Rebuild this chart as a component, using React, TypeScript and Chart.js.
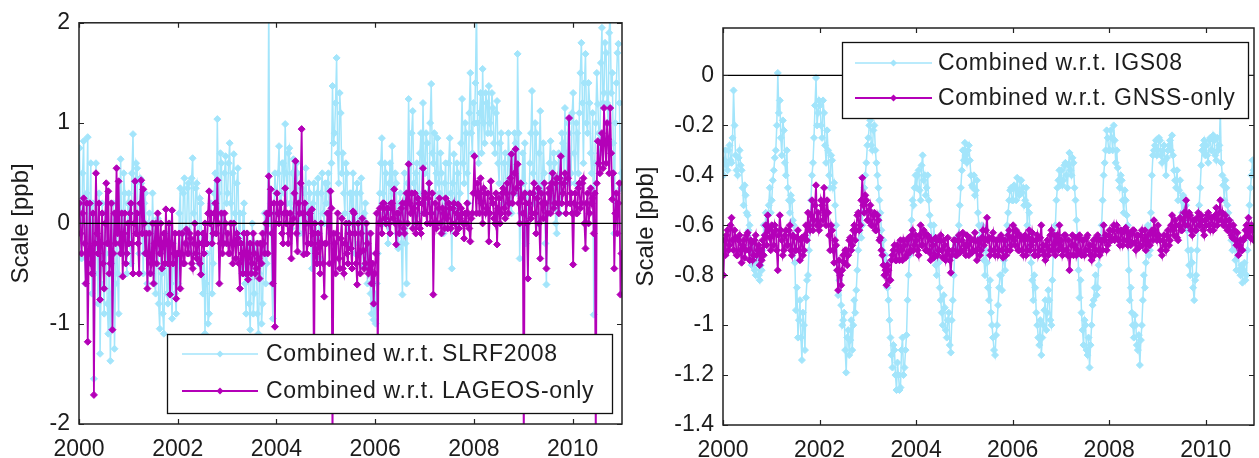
import React, { useEffect, useRef } from "react";
import { Chart, registerables } from "chart.js";

Chart.register(...registerables);

// ---- sampling: two weekly readings per half-month slot, from 2000.0 ----
const FIRST_YEAR = 2000;
const SLOTS_PER_YEAR = 24;

// ---- tick labels ----
const xTicks = [2000, 2002, 2004, 2006, 2008, 2010];
const leftYTicks = [-2, -1, 0, 1, 2];
const rightYTicks = [-1.4, -1.2, -1, -0.8, -0.6, -0.4, -0.2, 0];

// ---- left panel: Combined w.r.t. SLRF2008 [ppb] (first reading of each slot) ----
const slrf2008 = [
  0.75, -0.35, 0.82, -0.6, 0.86, 0.1, -0.7, -1.55, 0.6, -0.8, -1.3, 0.2, -0.9, -0.3, -1.1, -1.37, -0.4, -1.25, 0.0, -0.9, 0.64, -0.3, 0.3, -0.5,
  0.3, -0.4, 0.89, 0.1, 0.55, -0.3, 0.4, -0.5, 0.3, -0.6, 0.1, -0.3, -0.1, -0.7, 0.05, -1.05, -0.5, -1.1, -0.2, -0.8, 0.0, -0.95, -0.3, -0.9,
  -0.6, 0.35, -0.2, 0.45, -0.1, 0.4, -0.3, 0.65, 0.0, 0.4, -0.4, 0.2, -0.7, -1.1, -0.3, -0.9, 0.2, -0.4, 0.5, 1.04, 0.1, 0.6, -0.2, 0.67,
  0.3, 0.8, 0.0, 0.69, -0.2, 0.55, 0.1, -0.5, 0.2, -0.9, -0.2, -1.06, 0.0, -0.7, -0.3, -1.1, -0.2, -0.8, 0.1, -0.4, 2.3, 0.2, -0.95, 0.5,
  0.3, 0.77, 0.1, 0.6, 0.99, 0.2, 0.75, -0.05, 0.64, 0.15, 0.5, -0.1, 0.35, -0.3, 0.55, 0.0, 0.3, -0.45, 0.4, -0.2, 0.45, -0.35, 0.5, 0.0,
  0.2, 0.5, -0.1, 1.37, 0.9, 1.65, 0.4, 1.1, 0.7, 0.1, 0.5, -0.2, 0.3, 0.5, -0.3, 0.4, -0.1, 0.45, -0.43, 0.2, -0.6, -0.3, -0.9, -0.96,
  -1.0, -0.3, 0.3, 0.85, 0.0, 0.5, -0.2, 0.6, 0.77, 0.1, 0.4, -0.25, 0.3, -0.71, 0.5, -0.6, 1.24, 0.3, 1.12, 0.0, 0.6, 0.1, 0.9, 1.2,
  0.5, 0.8, 0.2, 1.39, 0.6, 0.1, 0.85, 0.3, 0.5, -0.1, 0.6, 0.2, 0.85, -0.45, 0.69, 0.0, 0.5, 0.3, 1.24, 0.4, 0.9, 0.2, 1.5, 0.7,
  1.0, 2.2, 0.6, 1.3, 1.54, 0.8, 1.2, 1.37, 0.9, 1.15, 0.7, 1.22, 0.4, 0.9, 0.2, 0.7, 0.3, 0.6, 0.1, 0.5, 0.8, 1.69, -0.35, 0.3,
  0.4, -0.2, -0.55, 0.6, 1.32, 0.2, 0.9, 0.0, 1.12, 0.3, 0.5, -0.61, 0.1, 0.82, 0.2, 0.6, -0.1, 0.7, 0.3, 0.8, 1.15, 0.4, 0.9, 0.5,
  1.3, 0.4, 0.9, 1.1, 1.8, 0.6, 1.69, 0.9, 1.2, 0.5, -0.91, 1.0, 1.19, 0.7, 1.95, 1.3, 1.7, 1.0, 2.1, 1.5, -0.1, 1.4, 1.79, 0.35,
];
// second reading of each slot
const slrf2008Mid = [
  0.1, 0.5, -0.2, 0.3, -0.4, 0.6, 0.2, -0.5, -0.2, 0.3, -0.6, -0.4, 0.1, -0.8, -0.2, -0.7, 0.2, -0.6, -0.5, 0.1, -0.1, 0.5, -0.2, 0.2,
  -0.2, 0.5, 0.2, 0.6, -0.2, 0.45, -0.1, 0.2, -0.3, 0.0, -0.5, 0.3, -0.6, 0.0, -0.8, -0.3, -0.9, -0.4, -0.7, -0.1, -0.6, -0.2, -0.7, -0.4,
  0.1, -0.3, 0.3, -0.1, 0.35, -0.2, 0.45, 0.1, 0.35, -0.2, 0.25, -0.5, -0.2, -0.6, -1.0, -0.2, -0.7, 0.3, -0.1, 0.3, 0.7, -0.1, 0.5, 0.2,
  0.6, 0.2, 0.5, 0.1, 0.4, -0.1, -0.4, 0.1, -0.6, -0.1, -0.8, -0.4, -0.9, -0.2, -0.9, -0.5, -1.0, -0.3, -0.6, -0.1, 0.0, -0.6, 0.1, 0.3,
  0.5, 0.2, 0.6, 0.3, 0.5, 0.7, 0.2, 0.5, 0.1, 0.6, 0.0, 0.4, -0.1, 0.3, 0.1, 0.4, -0.2, 0.2, -0.1, 0.3, -0.1, 0.3, 0.1, 0.4,
  0.4, 0.0, 0.6, 0.8, 1.2, 0.7, 1.3, 0.5, 0.3, 0.6, -0.1, 0.3, 0.0, -0.1, 0.3, -0.2, 0.3, 0.0, 0.1, -0.3, -0.1, -0.7, -0.5, -0.7,
  -0.6, 0.1, 0.6, 0.3, 0.6, 0.1, 0.4, 0.2, 0.3, 0.5, -0.1, 0.2, -0.2, 0.1, -0.2, 0.4, 0.6, 0.9, 0.4, 0.5, 0.2, 0.7, 0.3, 0.6,
  0.9, 0.3, 1.0, 0.7, 0.9, 0.5, 0.4, 0.7, 0.1, 0.4, 0.1, 0.6, 0.3, 0.4, 0.2, 0.6, 0.1, 0.8, 0.6, 1.0, 0.5, 1.1, 0.9, 1.2,
  1.4, 1.0, 1.1, 0.7, 1.0, 1.3, 0.9, 1.0, 1.3, 0.8, 1.1, 0.6, 0.8, 0.3, 0.6, 0.2, 0.9, 0.2, 0.7, 0.9, 0.3, 0.9, 0.1, 0.7,
  0.8, 0.3, 0.2, 0.9, 0.5, 1.0, 0.3, 0.7, 0.4, 0.8, -0.2, 0.2, 0.6, 0.3, 0.7, 0.0, 0.4, 0.1, 0.9, 0.4, 0.7, 1.0, 0.4, 1.1,
  0.7, 1.0, 0.5, 1.5, 1.2, 1.4, 1.0, 1.4, 0.7, 1.1, 0.6, 1.5, 0.9, 1.6, 1.2, 1.8, 1.2, 1.9, 1.3, 0.8, 1.0, 1.7, 1.2, 0.5,
];

// ---- left panel: Combined w.r.t. LAGEOS-only [ppb] ----
const lageosOnly = [
  0.2, -0.3, 0.25, -0.6, -1.18, 0.2, -0.5, -1.71, 0.5, -0.3, -0.76, 0.1, -0.65, 0.4, 0.32, -0.4, -1.06, 0.1, 0.55, 0.42, -0.3, -0.53, 0.1, -0.3,
  -0.2, 0.2, -0.5, 0.42, 0.1, -0.5, 0.43, 0.34, -0.3, -0.65, -0.1, -0.4, -0.6, 0.0, 0.1, -0.3, -0.45, -0.1, 0.14, -0.4, -0.71, 0.13, -0.3, -0.75,
  -0.3, -0.65, -0.1, -0.4, -0.06, -0.3, -0.15, -0.45, 0.0, -0.35, -0.2, -0.51, -0.1, 0.0, -0.2, 0.32, 0.1, -0.1, 0.2, 0.43, -0.6, 0.1, -0.2, 0.0,
  -0.1, -0.3, -0.2, 0.0, -0.35, -0.15, -0.65, -0.3, -0.1, -0.5, -0.56, -0.2, -0.4, -0.3, -0.45, -0.35, -0.2, -0.1, -0.3, 0.1, 0.47, 0.34, -0.6, -1.03,
  0.3, 0.0, 0.2, -0.2, 0.35, 0.1, -0.1, -0.35, 0.05, 0.62, -0.28, 0.1, 0.94, -0.31, 0.0, -0.2, 0.1, 0.14, -1.6, -0.3, -0.1, -0.5, -0.2, -0.73,
  -0.2, 0.1, 0.32, -2.3, -0.2, -0.1, -0.35, -0.15, -0.45, -0.2, -0.3, 0.0, -0.25, 0.12, -0.1, -0.61, -0.3, -0.1, -0.27, -0.4, -0.2, -0.46, -0.6, -0.8,
  -0.3, -1.4, 0.15, -0.1, 0.2, 0.0, 0.15, -0.1, 0.2, 0.34, -0.21, 0.1, 0.0, 0.2, -0.1, 0.3, 0.59, 0.1, -0.05, 0.3, 0.0, 0.2, -0.1, 0.55,
  0.3, 0.0, 0.4, 0.1, -0.71, 0.2, 0.0, 0.25, -0.1, 0.1, 0.25, -0.05, 0.15, 0.0, 0.2, -0.1, 0.19, 0.05, 0.1, -0.15, 0.0, 0.1, -0.18, 0.1,
  0.67, 0.1, 0.3, 0.45, 0.0, 0.3, 0.15, -0.18, 0.42, 0.2, 0.0, -0.21, 0.25, 0.1, 0.35, 0.05, 0.4, 0.2, 0.69, 0.3, 0.74, 0.59, 0.0, 0.25,
  -2.3, 0.2, -0.55, 0.3, 0.1, 0.4, -0.1, 0.35, -0.35, 0.2, 0.4, -0.45, 0.3, 0.1, 0.5, 0.2, 0.45, 0.1, 0.67, 0.3, 0.5, 0.2, 1.05, 0.3,
  -0.41, 0.3, 0.1, 0.4, 0.2, 0.45, -0.25, 0.3, 0.1, 0.2, -0.1, -2.3, 0.82, 0.5, 0.9, 1.15, 0.6, 0.84, 1.15, 0.24, -0.45, 0.3, 0.2, -0.71,
];
const lageosOnlyMid = [
  -0.1, 0.1, -0.2, 0.2, -0.3, -0.4, 0.1, -0.2, -0.1, 0.2, -0.2, -0.4, 0.0, -0.2, -0.5, 0.2, -0.3, -0.2, -0.1, -0.2, 0.1, -0.1, -0.4, 0.0,
  0.1, -0.2, 0.0, -0.1, -0.2, 0.2, -0.1, 0.0, -0.1, -0.3, -0.5, 0.0, -0.2, -0.4, -0.2, 0.0, -0.2, -0.4, -0.2, 0.0, -0.2, -0.4, -0.1, -0.3,
  -0.1, -0.3, -0.4, -0.2, -0.3, -0.1, -0.4, -0.2, -0.3, -0.1, -0.4, -0.2, -0.3, -0.2, 0.1, 0.0, -0.2, 0.1, -0.1, 0.0, -0.2, -0.3, 0.1, -0.2,
  -0.3, 0.0, -0.4, -0.2, -0.1, -0.4, -0.2, -0.5, -0.3, -0.1, -0.3, -0.5, -0.1, -0.5, -0.2, -0.55, -0.4, -0.2, 0.0, -0.3, 0.1, -0.1, 0.2, 0.0,
  0.1, 0.2, -0.1, 0.1, 0.0, -0.2, 0.1, 0.0, 0.3, -0.1, 0.2, 0.4, 0.1, 0.2, -0.3, 0.1, -0.2, -0.1, 0.0, -0.4, -0.2, 0.0, -0.4, -0.2,
  0.1, -0.4, 0.15, -0.1, -0.5, 0.1, -0.45, 0.05, -0.5, 0.0, -0.4, -0.1, -0.45, 0.1, -0.4, 0.0, -0.5, 0.05, -0.45, 0.0, -0.5, -0.1, -0.4, -0.5,
  0.1, 0.0, 0.0, 0.2, 0.05, 0.15, 0.0, 0.2, 0.05, 0.0, 0.1, -0.1, 0.15, -0.05, 0.2, 0.0, 0.2, 0.3, 0.15, -0.1, 0.25, -0.05, 0.2, 0.1,
  0.1, 0.25, 0.0, 0.3, 0.0, -0.05, 0.15, 0.0, 0.15, -0.05, 0.05, 0.2, -0.05, 0.15, 0.0, 0.1, -0.05, 0.15, 0.0, 0.1, 0.2, -0.05, 0.05, 0.3,
  0.3, 0.4, 0.1, 0.2, 0.35, 0.1, 0.3, 0.1, 0.25, 0.05, 0.3, 0.15, 0.0, 0.3, 0.15, 0.3, 0.1, 0.45, 0.2, 0.5, 0.35, 0.2, 0.4, 0.1,
  0.3, 0.0, 0.2, 0.05, 0.3, 0.1, 0.25, 0.0, 0.3, 0.05, 0.2, 0.1, 0.35, 0.4, 0.15, 0.4, 0.2, 0.45, 0.2, 0.4, 0.1, 0.45, 0.2, 0.1,
  0.2, 0.1, 0.35, 0.15, 0.4, 0.0, 0.2, 0.0, 0.35, 0.25, 0.3, 0.4, 0.6, 0.8, 0.55, 0.8, 1.0, 0.5, 0.7, 0.5, 0.1, -0.1, 0.4, -0.3,
];

// ---- right panel: Combined w.r.t. IGS08 [ppb] ----
const igs08 = [
  -0.4, -0.3, -0.38, -0.28, -0.35, -0.06, -0.32, -0.4, -0.3, -0.38, -0.52, -0.48, -0.56, -0.6, -0.76, -0.72, -0.8, -0.75, -0.82, -0.78, -0.6, -0.55, -0.6, -0.45,
  -0.5, -0.38, -0.3, 0.01, -0.1, -0.32, -0.22, -0.4, -0.45, -0.55, -0.5, -0.6, -0.94, -1.05, -0.9, -1.14, -1.0, -0.89, -0.8, -0.6, -0.4, -0.25, -0.01, -0.15,
  -0.12, -0.25, -0.15, -0.35, -0.3, -0.45, -0.34, -0.43, -0.6, -0.88, -0.8, -1.0, -0.95, -1.19, -1.02, -1.06, -1.1, -0.9, -0.86, -0.7, -0.55, -0.6, -0.45, -0.35,
  -0.25, -0.18, -0.3, -0.2, -0.35, -0.45, -0.55, -0.7, -0.8, -0.75, -0.9, -1.05, -1.17, -1.1, -1.26, -1.2, -1.25, -1.05, -1.17, -1.04, -0.8, -0.65, -0.5, -0.45,
  -0.45, -0.38, -0.5, -0.32, -0.4, -0.45, -0.5, -0.6, -0.7, -0.65, -0.8, -0.75, -0.9, -1.0, -0.93, -1.05, -0.95, -1.11, -0.9, -0.7, -0.65, -0.6, -0.45, -0.3,
  -0.27, -0.35, -0.28, -0.4, -0.45, -0.48, -0.42, -0.6, -0.7, -0.65, -0.8, -0.75, -0.9, -0.95, -1.05, -1.12, -1.0, -0.85, -0.8, -0.7, -0.78, -0.6, -0.5, -0.45,
  -0.5, -0.45, -0.41, -0.48, -0.42, -0.45, -0.5, -0.6, -0.55, -0.75, -0.9, -0.85, -1.0, -1.08, -1.12, -1.0, -0.9, -0.95, -0.9, -1.0, -0.7, -0.6, -0.45, -0.38,
  -0.38, -0.42, -0.35, -0.45, -0.31, -0.4, -0.35, -0.5, -0.65, -0.89, -0.95, -1.08, -1.0, -1.12, -1.17, -1.0, -0.9, -0.8, -0.85, -0.7, -0.6, -0.4, -0.3, -0.25,
  -0.3, -0.25, -0.2, -0.35, -0.37, -0.45, -0.42, -0.55, -0.5, -0.6, -0.9, -0.95, -1.05, -1.0, -1.1, -1.16, -1.0, -0.8, -0.75, -0.6, -0.7, -0.4, -0.3, -0.26,
  -0.3, -0.26, -0.35, -0.28, -0.4, -0.3, -0.26, -0.24, -0.38, -0.45, -0.5, -0.42, -0.55, -0.6, -0.52, -0.7, -0.8, -0.75, -0.9, -0.8, -0.6, -0.45, -0.3, -0.26,
  -0.28, -0.35, -0.25, -0.3, -0.26, -0.34, -0.3, -0.14, -0.4, -0.5, -0.45, -0.55, -0.6, -0.7, -0.65, -0.78, -0.72, -0.8, -0.83, -0.75, -0.8, -0.6, -0.45, -0.34,
];
const igs08Mid = [
  -0.34, -0.36, -0.3, -0.34, -0.25, -0.2, -0.38, -0.33, -0.36, -0.45, -0.44, -0.55, -0.62, -0.68, -0.7, -0.78, -0.74, -0.8, -0.76, -0.7, -0.64, -0.6, -0.52, -0.55,
  -0.42, -0.33, -0.2, -0.15, -0.25, -0.18, -0.35, -0.3, -0.5, -0.48, -0.58, -0.75, -0.85, -0.98, -1.05, -0.95, -1.1, -0.82, -0.7, -0.5, -0.35, -0.12, -0.2, -0.1,
  -0.2, -0.1, -0.28, -0.22, -0.4, -0.32, -0.45, -0.52, -0.78, -0.82, -0.92, -0.98, -1.1, -1.05, -1.12, -0.98, -1.0, -0.95, -0.78, -0.62, -0.65, -0.5, -0.4, -0.28,
  -0.2, -0.28, -0.22, -0.3, -0.4, -0.5, -0.62, -0.66, -0.72, -0.85, -0.98, -1.12, -1.08, -1.2, -1.15, -1.26, -1.1, -1.2, -1.1, -0.9, -0.72, -0.58, -0.52, -0.4,
  -0.4, -0.46, -0.36, -0.42, -0.48, -0.4, -0.56, -0.66, -0.6, -0.76, -0.7, -0.85, -0.95, -0.88, -1.02, -0.98, -1.08, -0.98, -0.8, -0.68, -0.7, -0.52, -0.38, -0.34,
  -0.32, -0.3, -0.34, -0.44, -0.4, -0.46, -0.55, -0.65, -0.6, -0.74, -0.7, -0.85, -0.82, -1.0, -1.1, -1.04, -0.92, -0.8, -0.86, -0.74, -0.66, -0.55, -0.46, -0.5,
  -0.44, -0.5, -0.46, -0.42, -0.47, -0.52, -0.45, -0.52, -0.68, -0.82, -0.8, -0.95, -1.05, -0.98, -1.05, -0.94, -1.02, -0.86, -0.98, -0.82, -0.65, -0.5, -0.42, -0.44,
  -0.44, -0.36, -0.4, -0.36, -0.38, -0.33, -0.45, -0.58, -0.78, -0.82, -1.02, -0.98, -1.1, -1.05, -1.08, -0.92, -0.85, -0.88, -0.76, -0.65, -0.5, -0.35, -0.22, -0.3,
  -0.22, -0.3, -0.26, -0.3, -0.42, -0.4, -0.5, -0.46, -0.56, -0.78, -0.85, -1.0, -0.96, -1.08, -1.04, -1.06, -0.9, -0.85, -0.66, -0.72, -0.55, -0.32, -0.28, -0.32,
  -0.25, -0.32, -0.3, -0.34, -0.33, -0.28, -0.3, -0.32, -0.42, -0.38, -0.46, -0.5, -0.48, -0.55, -0.62, -0.76, -0.7, -0.85, -0.82, -0.7, -0.52, -0.36, -0.28, -0.32,
  -0.32, -0.26, -0.3, -0.24, -0.32, -0.25, -0.28, -0.35, -0.44, -0.42, -0.52, -0.58, -0.66, -0.62, -0.74, -0.7, -0.78, -0.76, -0.78, -0.82, -0.7, -0.52, -0.4, -0.38,
];

// ---- right panel: Combined w.r.t. GNSS-only [ppb] ----
const gnssOnly = [
  -0.8, -0.72, -0.62, -0.68, -0.57, -0.7, -0.65, -0.72, -0.64, -0.75, -0.66, -0.7, -0.63, -0.74, -0.67, -0.72, -0.64, -0.7, -0.76, -0.74, -0.72, -0.6, -0.56, -0.65,
  -0.6, -0.68, -0.62, -0.78, -0.56, -0.66, -0.7, -0.62, -0.68, -0.6, -0.72, -0.65, -0.7, -0.62, -0.74, -0.65, -0.7, -0.6, -0.55, -0.62, -0.5, -0.58, -0.44, -0.55,
  -0.6, -0.52, -0.45, -0.6, -0.55, -0.7, -0.62, -0.75, -0.68, -0.86, -0.8, -0.78, -0.75, -0.7, -0.72, -0.65, -0.68, -0.6, -0.62, -0.55, -0.6, -0.41, -0.55, -0.5,
  -0.58, -0.52, -0.6, -0.55, -0.62, -0.58, -0.65, -0.72, -0.8, -0.84, -0.78, -0.82, -0.72, -0.68, -0.74, -0.7, -0.66, -0.74, -0.68, -0.72, -0.65, -0.7, -0.62, -0.68,
  -0.66, -0.72, -0.6, -0.68, -0.63, -0.7, -0.65, -0.74, -0.68, -0.72, -0.66, -0.7, -0.64, -0.73, -0.68, -0.72, -0.7, -0.79, -0.7, -0.66, -0.72, -0.64, -0.7, -0.63,
  -0.68, -0.64, -0.72, -0.66, -0.7, -0.63, -0.74, -0.67, -0.7, -0.62, -0.66, -0.57, -0.65, -0.7, -0.63, -0.72, -0.66, -0.7, -0.64, -0.73, -0.66, -0.7, -0.62, -0.68,
  -0.6, -0.68, -0.63, -0.7, -0.65, -0.72, -0.64, -0.7, -0.62, -0.68, -0.66, -0.72, -0.64, -0.7, -0.6, -0.68, -0.74, -0.66, -0.7, -0.62, -0.68, -0.72, -0.64, -0.6,
  -0.66, -0.7, -0.64, -0.72, -0.78, -0.68, -0.72, -0.65, -0.7, -0.64, -0.72, -0.66, -0.7, -0.64, -0.68, -0.74, -0.66, -0.7, -0.64, -0.72, -0.66, -0.6, -0.64, -0.68,
  -0.62, -0.66, -0.6, -0.65, -0.62, -0.68, -0.63, -0.66, -0.61, -0.68, -0.64, -0.67, -0.62, -0.7, -0.64, -0.68, -0.62, -0.66, -0.7, -0.64, -0.68, -0.62, -0.58, -0.64,
  -0.6, -0.66, -0.72, -0.64, -0.7, -0.62, -0.66, -0.56, -0.64, -0.6, -0.66, -0.57, -0.62, -0.55, -0.5, -0.6, -0.56, -0.64, -0.58, -0.62, -0.55, -0.6, -0.58, -0.64,
  -0.6, -0.55, -0.62, -0.57, -0.6, -0.53, -0.58, -0.5, -0.55, -0.6, -0.58, -0.62, -0.6, -0.65, -0.62, -0.68, -0.72, -0.66, -0.7, -0.65, -0.6, -0.57, -0.65, -0.62,
];
const gnssOnlyMid = [
  -0.66, -0.64, -0.7, -0.6, -0.66, -0.62, -0.72, -0.66, -0.7, -0.68, -0.73, -0.64, -0.7, -0.66, -0.74, -0.66, -0.72, -0.68, -0.7, -0.66, -0.64, -0.68, -0.62, -0.7,
  -0.64, -0.6, -0.7, -0.64, -0.62, -0.72, -0.64, -0.68, -0.62, -0.7, -0.64, -0.7, -0.65, -0.7, -0.66, -0.72, -0.64, -0.66, -0.6, -0.56, -0.62, -0.52, -0.6, -0.62,
  -0.5, -0.58, -0.56, -0.5, -0.64, -0.6, -0.7, -0.66, -0.78, -0.74, -0.84, -0.72, -0.7, -0.76, -0.66, -0.7, -0.62, -0.66, -0.56, -0.62, -0.5, -0.52, -0.48, -0.58,
  -0.54, -0.6, -0.56, -0.62, -0.56, -0.66, -0.7, -0.76, -0.78, -0.76, -0.82, -0.74, -0.7, -0.74, -0.68, -0.74, -0.7, -0.66, -0.73, -0.66, -0.71, -0.64, -0.7, -0.64,
  -0.7, -0.64, -0.68, -0.62, -0.7, -0.64, -0.71, -0.66, -0.73, -0.65, -0.72, -0.66, -0.7, -0.66, -0.74, -0.65, -0.74, -0.72, -0.66, -0.72, -0.66, -0.71, -0.66, -0.7,
  -0.72, -0.68, -0.65, -0.71, -0.66, -0.7, -0.66, -0.72, -0.65, -0.68, -0.62, -0.66, -0.72, -0.65, -0.7, -0.66, -0.72, -0.65, -0.7, -0.66, -0.72, -0.64, -0.7, -0.65,
  -0.66, -0.62, -0.7, -0.64, -0.7, -0.66, -0.72, -0.65, -0.7, -0.63, -0.72, -0.66, -0.72, -0.65, -0.7, -0.72, -0.68, -0.72, -0.64, -0.7, -0.64, -0.66, -0.7, -0.68,
  -0.72, -0.64, -0.7, -0.66, -0.72, -0.64, -0.68, -0.72, -0.65, -0.71, -0.66, -0.72, -0.65, -0.7, -0.72, -0.68, -0.72, -0.65, -0.7, -0.66, -0.7, -0.66, -0.7, -0.64,
  -0.66, -0.62, -0.66, -0.6, -0.66, -0.62, -0.68, -0.62, -0.66, -0.63, -0.68, -0.62, -0.67, -0.64, -0.69, -0.64, -0.68, -0.62, -0.66, -0.68, -0.63, -0.66, -0.62, -0.66,
  -0.64, -0.7, -0.66, -0.68, -0.64, -0.68, -0.6, -0.62, -0.58, -0.65, -0.6, -0.62, -0.58, -0.6, -0.56, -0.55, -0.62, -0.58, -0.62, -0.57, -0.6, -0.56, -0.62, -0.58,
  -0.56, -0.6, -0.57, -0.62, -0.56, -0.6, -0.55, -0.58, -0.6, -0.56, -0.62, -0.58, -0.64, -0.6, -0.66, -0.63, -0.68, -0.7, -0.66, -0.62, -0.64, -0.62, -0.6, -0.66,
];

const zeroLine = [0, 0];
const zeroLineX = [2000, 2011];

// ---- styling ----
const BLUE = "rgb(163,229,251)";
const MAGENTA = "rgb(180,0,184)";
const TEXT = "#1c1c1c";
const FONT_FAMILY = "'Liberation Sans', Arial, Helvetica, sans-serif";
const FONT_SIZE = 23;

// two readings per slot: first at a quarter, second at three quarters of the slot
const toPoints = (first: number[], second: number[]) => {
  const pts: { x: number; y: number }[] = [];
  first.forEach((v, i) => {
    pts.push({ x: FIRST_YEAR + (i + 0.25) / SLOTS_PER_YEAR, y: v });
    if (second[i] !== undefined) {
      pts.push({ x: FIRST_YEAR + (i + 0.75) / SLOTS_PER_YEAR, y: second[i] });
    }
  });
  return pts;
};

const framePlugin = {
  id: "matlabFrame",
  afterDatasetsDraw(chart: any, _args: any, opts: any) {
    const { ctx, chartArea: a } = chart;
    ctx.save();
    // legend box (inside the axes, opaque)
    const lg = opts.legend;
    ctx.fillStyle = "#ffffff";
    ctx.fillRect(lg.x, lg.y, lg.w, lg.h);
    ctx.strokeStyle = "#111";
    ctx.lineWidth = 1.3;
    ctx.strokeRect(lg.x + 0.5, lg.y + 0.5, lg.w, lg.h);
    const items = chart.data.datasets
      .filter((d: any) => d.label)
      .sort((p: any, q: any) => (q.order ?? 0) - (p.order ?? 0));
    items.forEach((it: any, i: number) => {
      const y = lg.y + lg.rowY[i];
      ctx.strokeStyle = it.borderColor;
      ctx.lineWidth = it.legendLineWidth;
      ctx.beginPath();
      ctx.moveTo(lg.x + lg.lineX0, y);
      ctx.lineTo(lg.x + lg.lineX1, y);
      ctx.stroke();
      const cx = lg.x + (lg.lineX0 + lg.lineX1) / 2;
      const r = 3.5;
      ctx.fillStyle = it.borderColor;
      ctx.beginPath();
      ctx.moveTo(cx, y - r);
      ctx.lineTo(cx + r, y);
      ctx.lineTo(cx, y + r);
      ctx.lineTo(cx - r, y);
      ctx.closePath();
      ctx.fill();
      ctx.fillStyle = TEXT;
      ctx.font = `${FONT_SIZE}px ${FONT_FAMILY}`;
      ctx.textAlign = "left";
      ctx.textBaseline = "middle";
      try {
        (ctx as any).letterSpacing = lg.letterSpacing;
      } catch (e) {
        /* ignore */
      }
      ctx.fillText(it.label, lg.x + lg.textX, y + 1);
      try {
        (ctx as any).letterSpacing = "0px";
      } catch (e) {
        /* ignore */
      }
    });
    // axes box
    ctx.strokeStyle = "#222";
    ctx.lineWidth = 1.5;
    ctx.strokeRect(a.left, a.top, a.right - a.left, a.bottom - a.top);
    // inward tick marks on all four sides
    const L = 5;
    const xs = chart.scales.x;
    const ys = chart.scales.y;
    ctx.lineWidth = 1.2;
    ctx.beginPath();
    xs.ticks.forEach((t: any) => {
      const px = Math.round(xs.getPixelForValue(t.value)) + 0.5;
      ctx.moveTo(px, a.bottom);
      ctx.lineTo(px, a.bottom - L);
      ctx.moveTo(px, a.top);
      ctx.lineTo(px, a.top + L);
    });
    ys.ticks.forEach((t: any) => {
      const py = Math.round(ys.getPixelForValue(t.value)) + 0.5;
      ctx.moveTo(a.left, py);
      ctx.lineTo(a.left + L, py);
      ctx.moveTo(a.right, py);
      ctx.lineTo(a.right - L, py);
    });
    ctx.stroke();
    ctx.restore();
  },
};

type PanelSpec = {
  top: number;
  right: number;
  yWidth: number;
  xHeight: number;
  titlePad: number;
  yMin: number;
  yMax: number;
  yTicks: number[];
  blue: number[];
  blueMid: number[];
  magenta: number[];
  magentaMid: number[];
  blueLabel: string;
  magentaLabel: string;
  legend: any;
};

function makeConfig(p: PanelSpec): any {
  const font = { family: FONT_FAMILY, size: FONT_SIZE };
  return {
    type: "line",
    data: {
      datasets: [
        {
          label: "",
          data: zeroLineX.map((x, i) => ({ x, y: zeroLine[i] })),
          borderColor: "#000",
          borderWidth: 1.3,
          pointRadius: 0,
          order: 0,
        },
        {
          label: p.magentaLabel,
          data: toPoints(p.magenta, p.magentaMid),
          borderColor: MAGENTA,
          backgroundColor: MAGENTA,
          borderWidth: 1.8,
          legendLineWidth: 1.8,
          pointStyle: "rectRot",
          pointRadius: 3.5,
          pointBorderWidth: 1,
          pointBackgroundColor: MAGENTA,
          pointBorderColor: MAGENTA,
          order: 1,
        },
        {
          label: p.blueLabel,
          data: toPoints(p.blue, p.blueMid),
          borderColor: BLUE,
          backgroundColor: BLUE,
          borderWidth: 1.5,
          legendLineWidth: 1.5,
          pointStyle: "rectRot",
          pointRadius: 3.5,
          pointBorderWidth: 1,
          pointBackgroundColor: BLUE,
          pointBorderColor: BLUE,
          order: 2,
        },
      ],
    },
    options: {
      responsive: false,
      animation: false,
      devicePixelRatio: 1,
      events: [],
      layout: { padding: { left: 0, right: p.right, top: p.top, bottom: 0 } },
      plugins: {
        legend: { display: false },
        tooltip: { enabled: false },
        matlabFrame: { legend: p.legend },
      },
      scales: {
        x: {
          type: "linear",
          min: 2000,
          max: 2011,
          afterBuildTicks: (s: any) => {
            s.ticks = xTicks.map((v) => ({ value: v }));
          },
          afterFit: (s: any) => {
            s.height = p.xHeight;
          },
          grid: { display: false, drawTicks: false },
          border: { display: false },
          ticks: {
            autoSkip: false,
            maxRotation: 0,
            minRotation: 0,
            padding: 12,
            color: TEXT,
            font,
            callback: (v: any) => String(v),
          },
        },
        y: {
          type: "linear",
          min: p.yMin,
          max: p.yMax,
          afterBuildTicks: (s: any) => {
            s.ticks = p.yTicks.map((v) => ({ value: v }));
          },
          afterFit: (s: any) => {
            s.width = p.yWidth;
          },
          grid: { display: false, drawTicks: false },
          border: { display: false },
          ticks: {
            autoSkip: false,
            padding: 9,
            color: TEXT,
            font,
            callback: (v: any) => String(v),
          },
          title: {
            display: true,
            text: "Scale [ppb]",
            color: TEXT,
            font: { family: FONT_FAMILY, size: 24 },
            padding: { top: p.titlePad, bottom: 0 },
          },
        },
      },
    },
    plugins: [framePlugin],
  };
}

export default function App() {
  const leftRef = useRef<HTMLCanvasElement>(null);
  const rightRef = useRef<HTMLCanvasElement>(null);

  useEffect(() => {
    const left = new Chart(
      leftRef.current as HTMLCanvasElement,
      makeConfig({
        top: 22,
        right: 8,
        yWidth: 79,
        xHeight: 34,
        titlePad: 7,
        yMin: -2,
        yMax: 2,
        yTicks: leftYTicks,
        blue: slrf2008,
        blueMid: slrf2008Mid,
        magenta: lageosOnly,
        magentaMid: lageosOnlyMid,
        blueLabel: "Combined w.r.t. SLRF2008",
        magentaLabel: "Combined w.r.t. LAGEOS-only",
        legend: {
          x: 167, y: 334, w: 445, h: 79, rowY: [20, 57],
          lineX0: 15, lineX1: 91, textX: 99, letterSpacing: "0.7px",
        },
      })
    );
    const right = new Chart(
      rightRef.current as HTMLCanvasElement,
      makeConfig({
        top: 28,
        right: 1,
        yWidth: 93,
        xHeight: 33,
        titlePad: 2,
        yMin: -1.4,
        yMax: 0.19,
        yTicks: rightYTicks,
        blue: igs08,
        blueMid: igs08Mid,
        magenta: gnssOnly,
        magentaMid: gnssOnlyMid,
        blueLabel: "Combined w.r.t. IGS08",
        magentaLabel: "Combined w.r.t. GNSS-only",
        legend: {
          x: 212, y: 42, w: 406, h: 76, rowY: [21, 56],
          lineX0: 13, lineX1: 90, textX: 96, letterSpacing: "0.7px",
        },
      })
    );
    return () => {
      left.destroy();
      right.destroy();
    };
  }, []);

  return (
    <div
      style={{
        position: "absolute",
        left: 0,
        top: 0,
        width: 1259,
        height: 458,
        background: "#ffffff",
        overflow: "hidden",
      }}
    >
      <canvas
        ref={leftRef}
        width={630}
        height={458}
        style={{ position: "absolute", left: 0, top: 0, width: 630, height: 458, display: "block" }}
      />
      <canvas
        ref={rightRef}
        width={629}
        height={458}
        style={{ position: "absolute", left: 630, top: 0, width: 629, height: 458, display: "block" }}
      />
    </div>
  );
}
